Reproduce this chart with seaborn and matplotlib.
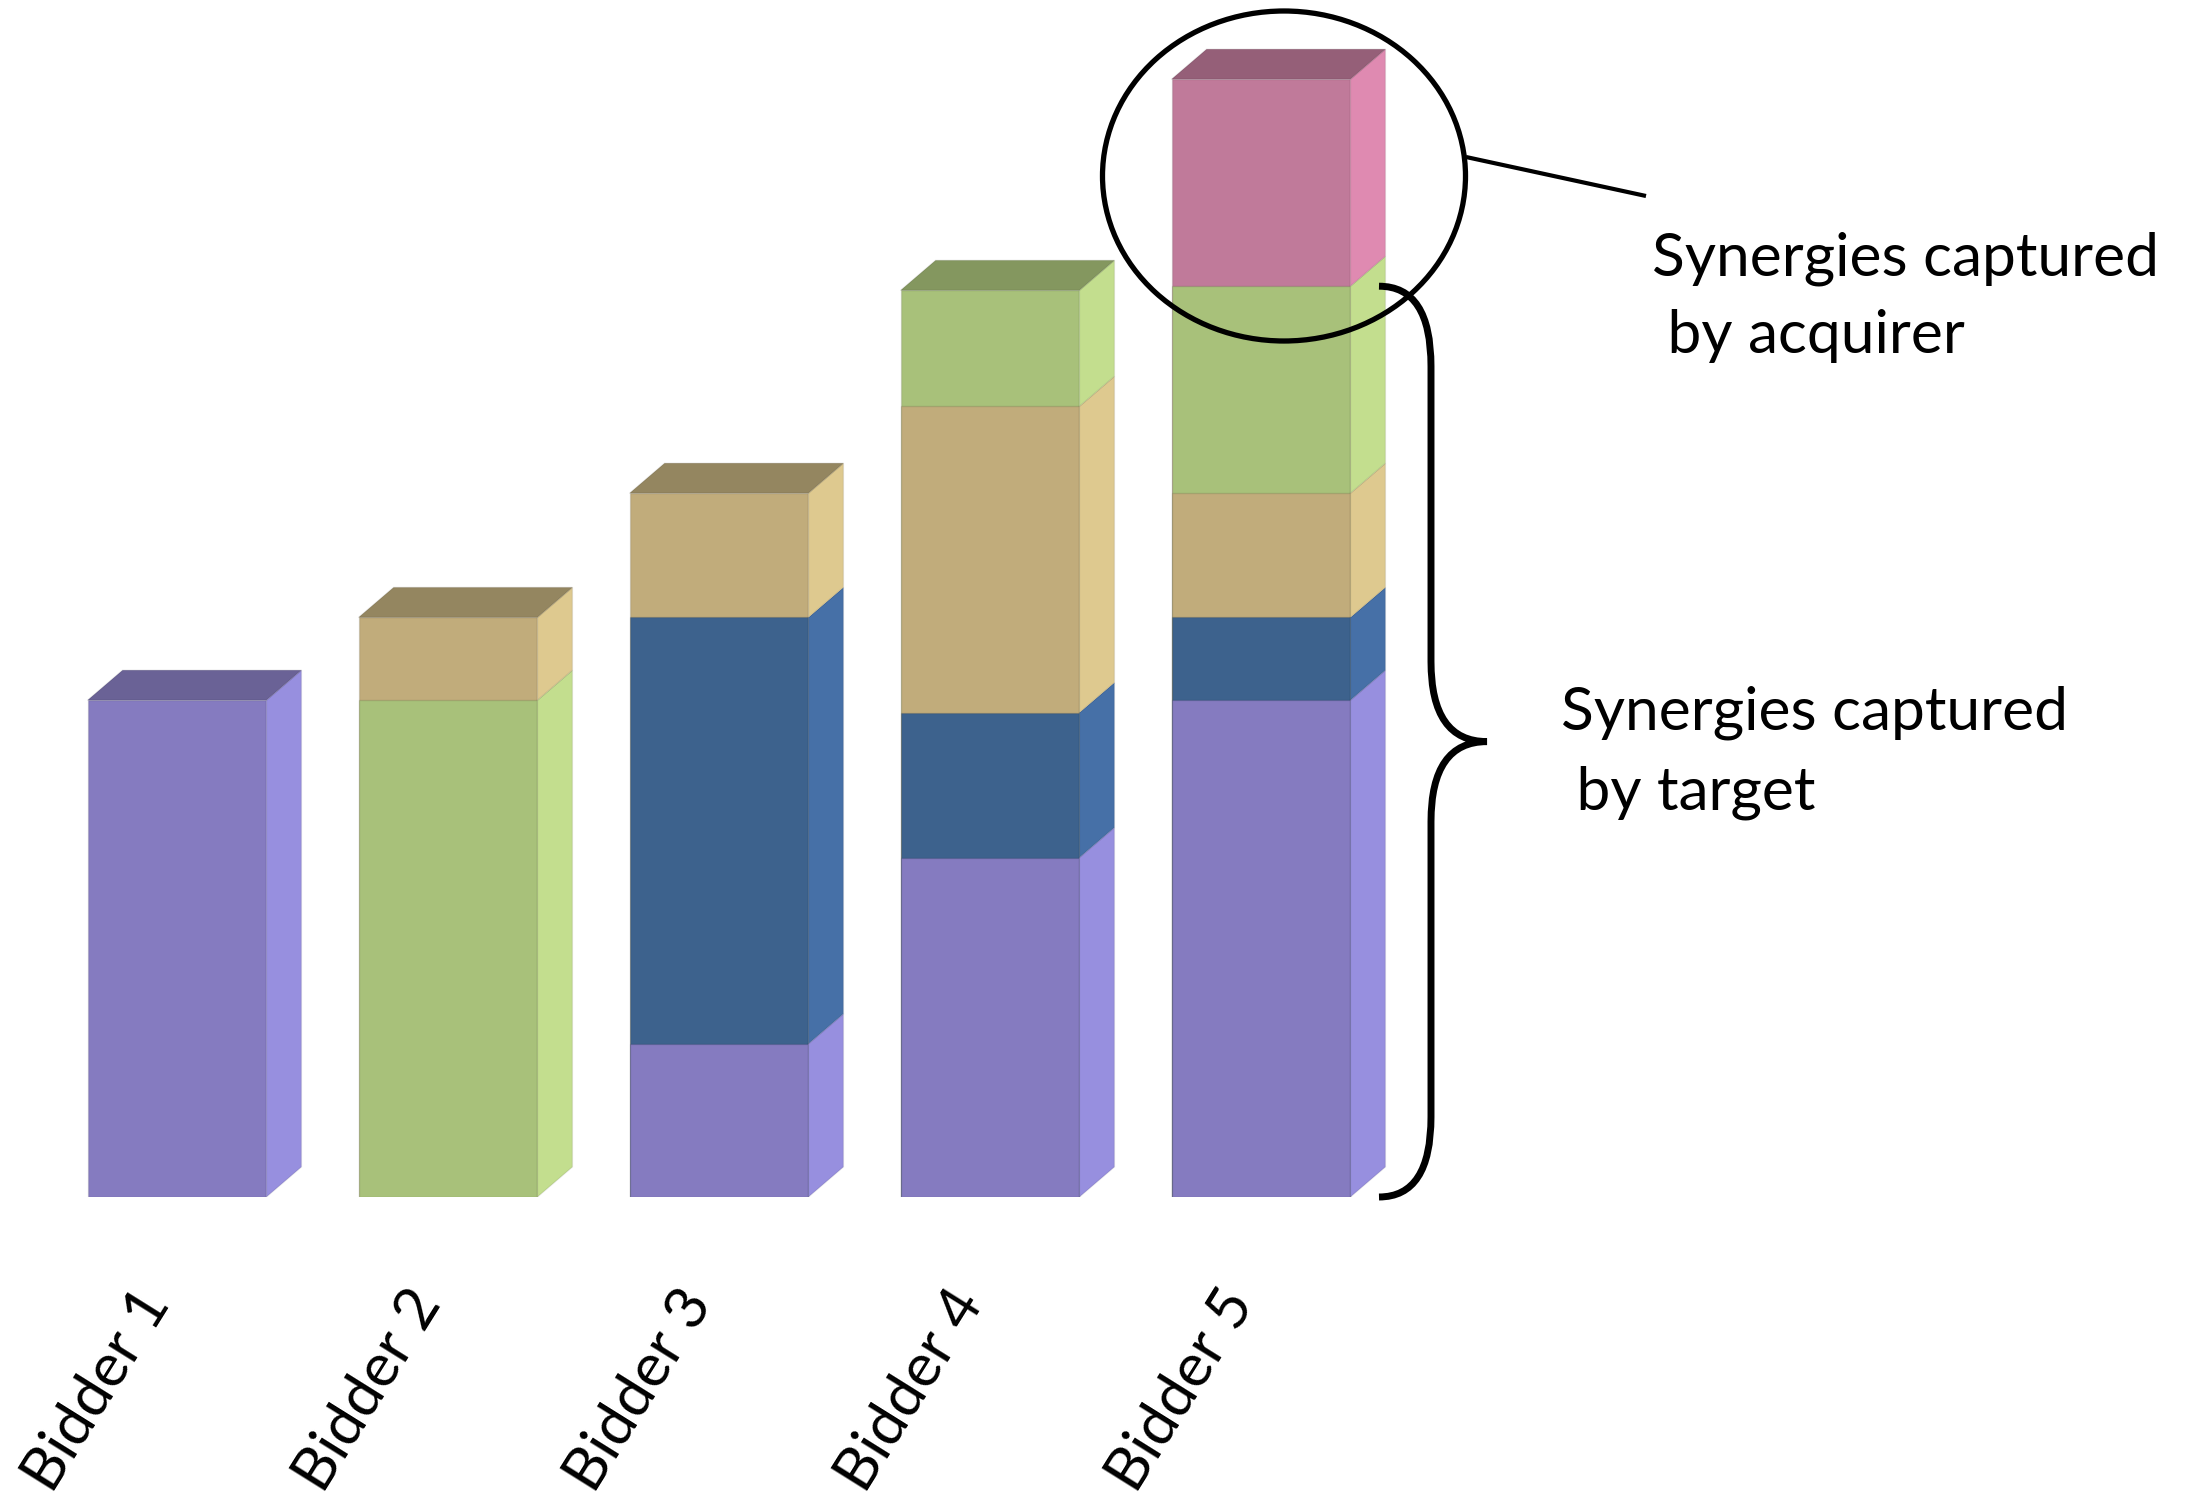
import matplotlib
matplotlib.use("Agg")
import matplotlib.pyplot as plt
import matplotlib.transforms as mtransforms
from matplotlib.patches import Polygon, Ellipse, PathPatch
from matplotlib.path import Path
import pandas as pd
import seaborn as sns

# ---- data -------------------------------------------------------------
bidders = ["Bidder 1", "Bidder 2", "Bidder 3", "Bidder 4", "Bidder 5"]

# stacked components of each bid, bottom to top
segment_kinds = [
    ["purple"],
    ["green", "tan"],
    ["purple", "blue", "tan"],
    ["purple", "blue", "tan", "green"],
    ["purple", "blue", "tan", "green", "pink"],
]
segment_values = [
    [12.0],
    [12.0, 2.0],
    [3.7, 10.3, 3.0],
    [8.2, 3.5, 7.4, 2.8],
    [12.0, 2.0, 3.0, 5.0, 5.0],
]

acquirer_label = ["Synergies captured", " by acquirer"]
target_label = ["Synergies captured", " by target"]

# ---- colours: front, side and top faces of the 3-D blocks -------------
front = {"purple": "#857BC0", "blue": "#3D628D", "tan": "#C1AC7B",
         "green": "#A8C17A", "pink": "#C07A9A"}
side = {"purple": "#978FDF", "blue": "#4670A7", "tan": "#DEC98F",
        "green": "#C3DE8E", "pink": "#DF8AB1"}
top = {"purple": "#6A6296", "blue": "#30507A", "tan": "#948660",
       "green": "#84975F", "pink": "#955F78"}

FONT = ["Lato", "DejaVu Sans"]
FS = 43.5

sns.set_style("white")
plt.rcParams["font.family"] = FONT

W, H = 2195, 1499
fig = plt.figure(figsize=(W / 100, H / 100), dpi=100)
base_px = 1197          # baseline, pixels from top
x0_px, step_px = 177, 271
unit_px = 41.4
ax = fig.add_axes([0, (H - base_px) / H, 1, base_px / H])

bar_w = 0.66
n_layers = max(len(s) for s in segment_values)

# front faces: cumulative layers drawn from the top layer downwards
for k in reversed(range(n_layers)):
    rows = []
    for i, b in enumerate(bidders):
        if k < len(segment_values[i]):
            rows.append((b, sum(segment_values[i][:k + 1]), segment_kinds[i][k]))
    df = pd.DataFrame(rows, columns=["bidder", "top", "kind"])
    pal = {r.bidder: front[r.kind] for r in df.itertuples()}
    sns.barplot(data=df, x="bidder", y="top", hue="bidder", order=bidders,
                palette=pal, width=bar_w, saturation=1, legend=False,
                edgecolor=(0, 0, 0, 0.10), linewidth=1.0, ax=ax, zorder=2)

ax.set_xlim(-x0_px / step_px, (W - x0_px) / step_px)
ax.set_ylim(0, base_px / unit_px)

# depth of the blocks, converted from pixels to data units
dx = 35 / step_px
dy = 30 / unit_px

for i, (kinds, vals) in enumerate(zip(segment_kinds, segment_values)):
    xr = i + bar_w / 2
    xl = i - bar_w / 2
    bottom = 0.0
    for kind, v in zip(kinds, vals):
        y0, y1 = bottom, bottom + v
        ax.add_patch(Polygon([(xr, y0), (xr + dx, y0 + dy), (xr + dx, y1 + dy), (xr, y1)],
                             closed=True, facecolor=side[kind],
                             edgecolor=(0, 0, 0, 0.08), linewidth=1.0, zorder=2))
        bottom = y1
    kind = kinds[-1]
    ax.add_patch(Polygon([(xl, bottom), (xr, bottom), (xr + dx, bottom + dy), (xl + dx, bottom + dy)],
                         closed=True, facecolor=top[kind],
                         edgecolor=(0, 0, 0, 0.08), linewidth=1.0, zorder=2))

# axis dressing
sns.despine(ax=ax, left=True, bottom=True)
ax.set_yticks([])
ax.set_xlabel("")
ax.set_ylabel("")
ax.set_xticks(range(len(bidders)))
ax.set_xticklabels(bidders, rotation=58, ha="right", va="center",
                   rotation_mode="anchor", fontsize=FS, family=FONT, color="black")
ax.tick_params(axis="x", length=0, pad=98 * 0.72)
shift = mtransforms.ScaledTranslation(-20 / 100, 0, fig.dpi_scale_trans)
for lab in ax.get_xticklabels():
    lab.set_transform(lab.get_transform() + shift)


def px_to_data(px, py):
    return ((px - x0_px) / step_px, (base_px - py) / unit_px)


# ellipse around the acquirer's share
cx, cy = px_to_data(1284, 176)
ax.add_patch(Ellipse((cx, cy), 363 / step_px, 330 / unit_px, fill=False,
                     edgecolor="black", linewidth=3.8, zorder=4, clip_on=False))
p1 = px_to_data(1466, 157)
p2 = px_to_data(1646, 196)
ax.plot([p1[0], p2[0]], [p1[1], p2[1]], color="black", linewidth=3.0,
        solid_capstyle="butt", zorder=4, clip_on=False)

# curly brace spanning the target's share of bidder 5
last_vals = segment_values[-1]
y_top = sum(last_vals[:-1])
y_bot = 0.0
y_mid = (y_top + y_bot) / 2
xb0 = px_to_data(1379, 0)[0]
xs = px_to_data(1431, 0)[0]
xt = px_to_data(1487, 0)[0]
r = 80 / unit_px
verts = [
    (xb0, y_top), (xs, y_top), (xs, y_top - r),
    (xs, y_mid + r),
    (xs, y_mid), (xt, y_mid),
    (xs, y_mid), (xs, y_mid - r),
    (xs, y_bot + r),
    (xs, y_bot), (xb0, y_bot),
]
codes = [Path.MOVETO, Path.CURVE3, Path.CURVE3,
         Path.LINETO,
         Path.CURVE3, Path.CURVE3,
         Path.CURVE3, Path.CURVE3,
         Path.LINETO,
         Path.CURVE3, Path.CURVE3]
ax.add_patch(PathPatch(Path(verts, codes), fill=False, edgecolor="black",
                       linewidth=5.0, capstyle="butt", zorder=4, clip_on=False))

# annotation texts
for j, line in enumerate(acquirer_label):
    fig.text(1652 / W, 1 - (275 + 78 * j) / H, line, fontsize=FS,
             family=FONT, ha="left", va="baseline", color="black")
for j, line in enumerate(target_label):
    fig.text(1561 / W, 1 - (730 + 79 * j) / H, line, fontsize=FS,
             family=FONT, ha="left", va="baseline", color="black")

fig.savefig("out.png", dpi=100, facecolor="white")
